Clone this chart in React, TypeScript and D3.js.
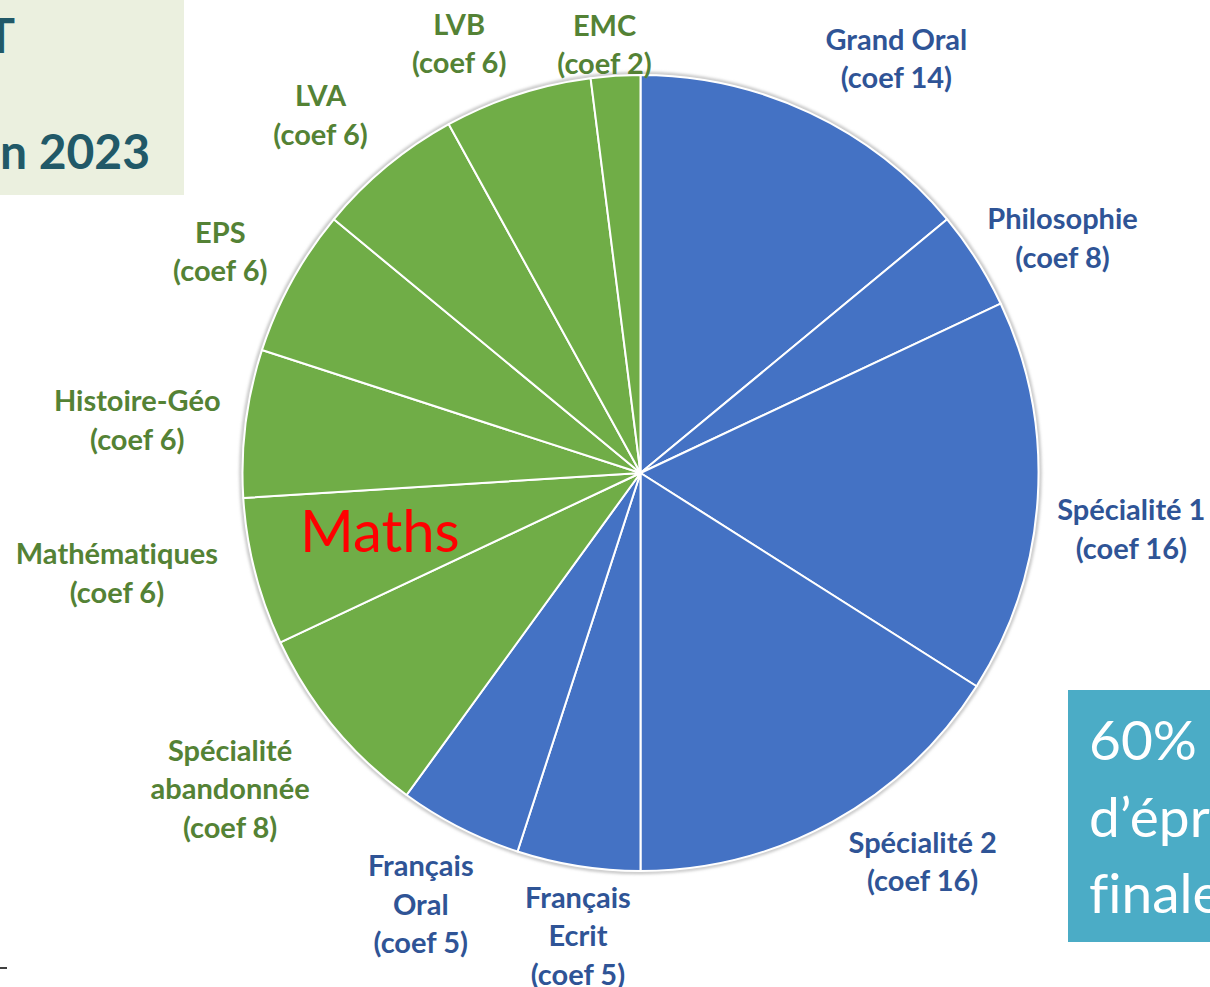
import React from "react";
import * as d3 from "d3";

// ---- data ----
const subjects = [
  "Grand Oral", "Philosophie", "Spécialité 1", "Spécialité 2", "Français\nEcrit",
  "Français\nOral", "Spécialité\nabandonnée", "Mathématiques", "Histoire-Géo",
  "EPS", "LVA", "LVB", "EMC",
];
const coefLabels = [14, 8, 16, 16, 5, 5, 8, 6, 6, 6, 6, 6, 2];
const sliceValues = [14, 4, 16, 16, 5, 5, 8, 6, 6, 6, 6, 6, 2];
const groups = ["final", "final", "final", "final", "final", "final", "cc", "cc", "cc", "cc", "cc", "cc", "cc"];
// label placement tweaks (angle shift in degrees, distance from centre)
const labelShift = [6.5, 3.3, 2.9, -7.2, -1.3, 0, 2, 3.6, -1.2, -1, -2.2, -4.9, -1.2];
const labelDist = [487, 483, 494, 480, 467, 484, 518, 533, 506, 475, 480, 466, 430];

const W = 1210, H = 987;
const CX = 640.5, CY = 473, R = 398;
const fill: Record<string, string> = { final: "#4472C4", cc: "#70AD47" };
const textCol: Record<string, string> = { final: "#2F5496", cc: "#548235" };
const FS = 29, LH = 38.5;

export default function App() {
  const pie = d3.pie<number>().sort(null).startAngle(0).endAngle(2 * Math.PI);
  const arcs = pie(sliceValues);
  const arc = d3.arc<d3.PieArcDatum<number>>().innerRadius(0).outerRadius(R);

  return (
    <svg width={W} height={H}
      style={{ position: "fixed", left: 0, top: 0, background: "#fff", fontVariantLigatures: "none" }}
      fontFamily="Lato, 'Open Sans', sans-serif">
      <defs>
        <filter id="sh" x="-10%" y="-10%" width="120%" height="120%">
          <feGaussianBlur stdDeviation="1.5" />
        </filter>
      </defs>
      {/* title box */}
      <rect x={0} y={0} width={184} height={195} fill="#EBF0DF" />
      <text x={15} y={53} textAnchor="end" fontSize={48} fontWeight={700} fill="#215968">T</text>
      <text x={150} y={169} textAnchor="end" fontSize={48} fontWeight={700} fill="#215968">n 2023</text>

      {/* pie shadow outline */}
      <circle cx={CX} cy={CY} r={R + 1.5} fill="none" stroke="#bdbdbd" strokeWidth={3} filter="url(#sh)" />
      <g transform={`translate(${CX},${CY})`}>
        {arcs.map((a, i) => (
          <path key={i} d={arc(a) || ""} fill={fill[groups[i]]} stroke="#ffffff" strokeWidth={2} strokeLinejoin="round" />
        ))}
      </g>

      {/* labels */}
      {arcs.map((a, i) => {
        const mid = (a.startAngle + a.endAngle) / 2 + (labelShift[i] * Math.PI) / 180;
        const x = CX + labelDist[i] * Math.sin(mid);
        const y = CY - labelDist[i] * Math.cos(mid);
        const lines = [...subjects[i].split("\n"), `(coef ${coefLabels[i]})`];
        const y0 = y - ((lines.length - 1) * LH) / 2;
        return (
          <text key={i} textAnchor="middle" fontSize={FS} fontWeight={700} fill={textCol[groups[i]]}>
            {lines.map((l, j) => (
              <tspan key={j} x={x} y={y0 + j * LH + FS * 0.36}>{l}</tspan>
            ))}
          </text>
        );
      })}

      {/* Maths annotation */}
      <text x={300} y={552} fontSize={58} fill="#FF0000">Maths</text>

      {/* right box */}
      <rect x={1068} y={690} width={160} height={252} fill="#4BACC6" />
      <g fontSize={55} fill="#ffffff">
        <text x={1089} y={760}>60% de notes</text>
        <text x={1089} y={837}>d’épreuves</text>
        <text x={1089} y={913}>finales</text>
      </g>
      <line x1={0} y1={968} x2={7} y2={968} stroke="#000" strokeWidth={1.5} />
    </svg>
  );
}
